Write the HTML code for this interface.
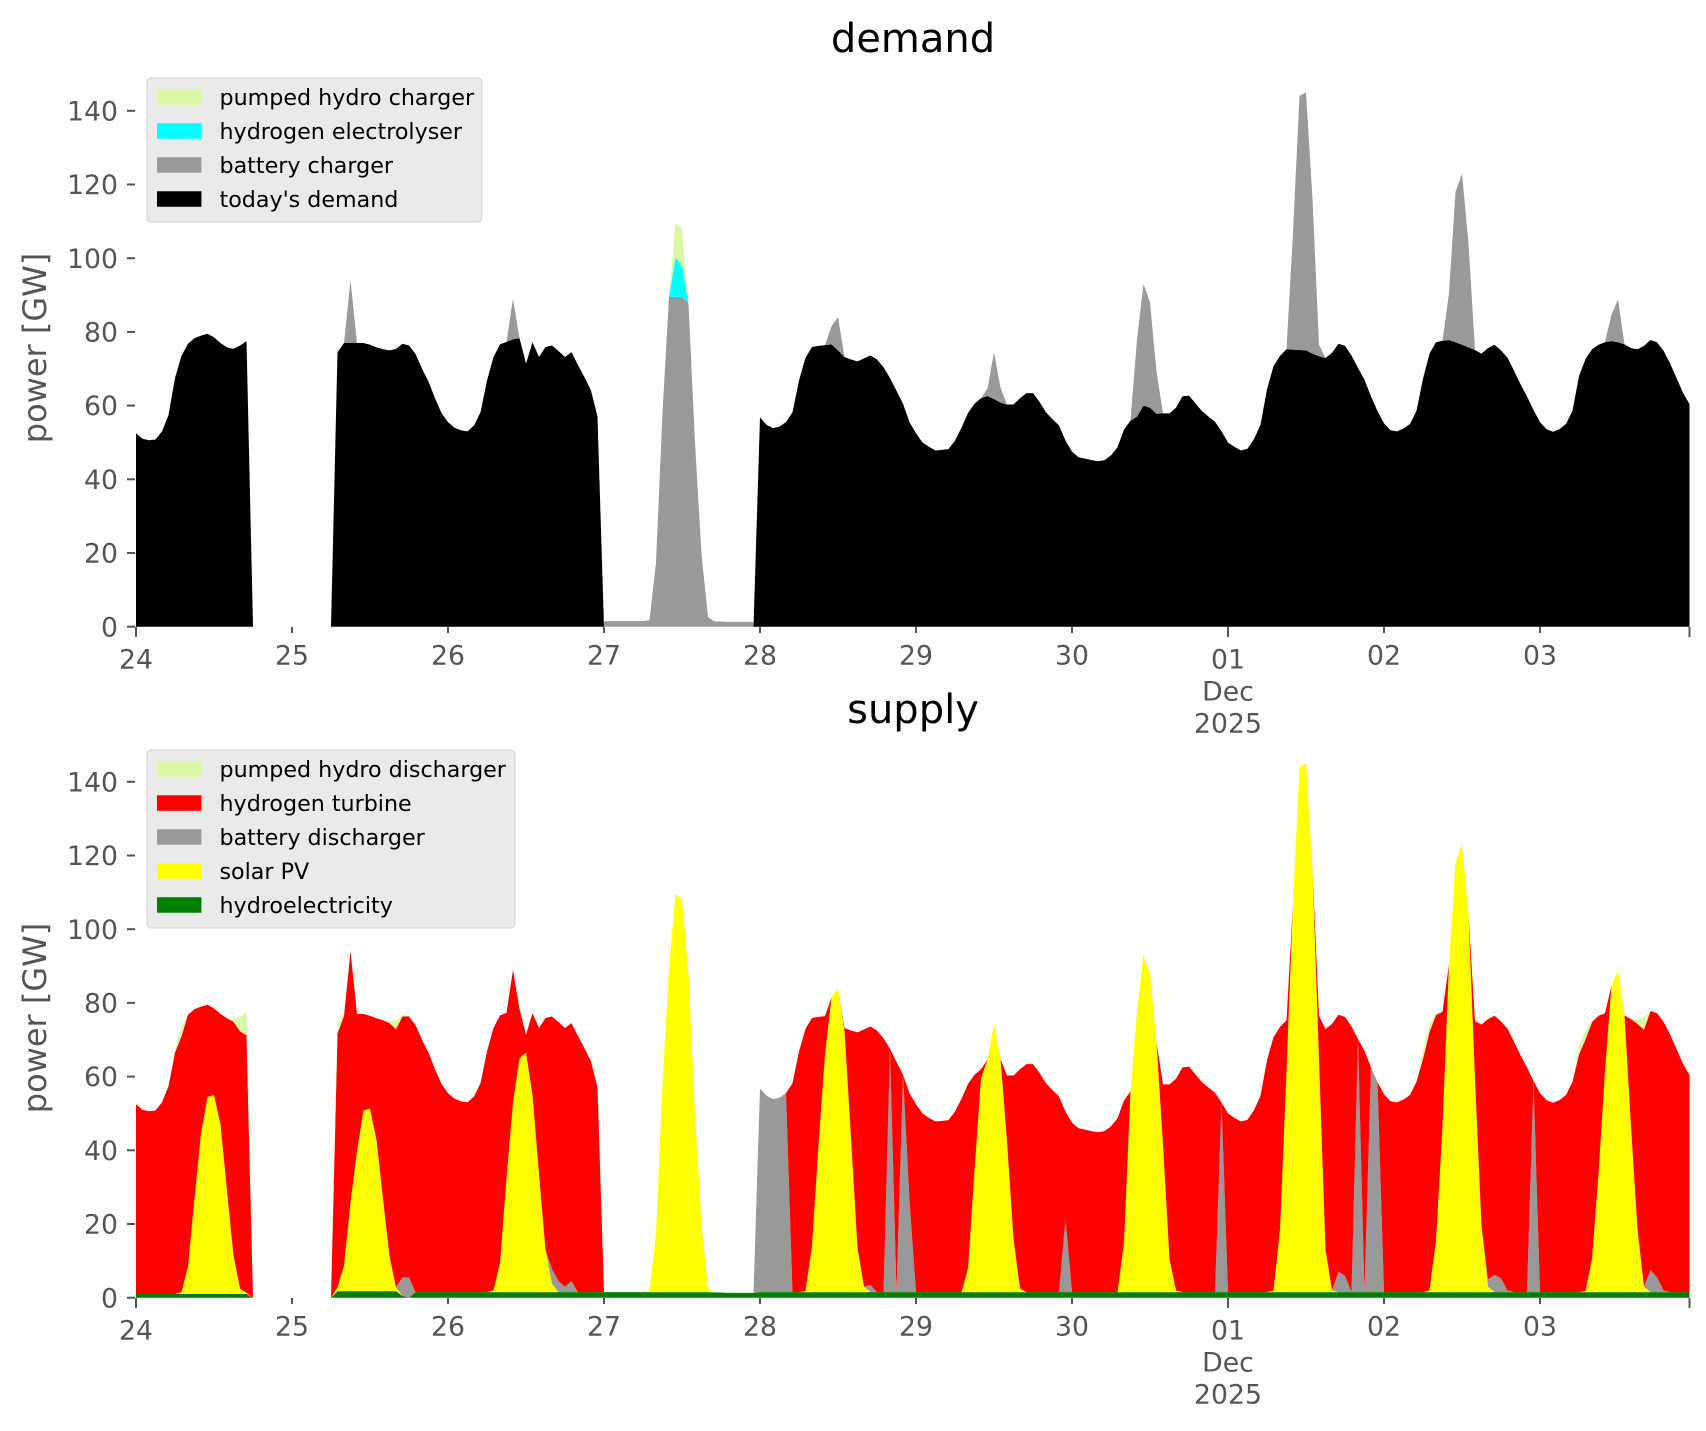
<!DOCTYPE html>
<html>
<head>
<meta charset="utf-8">
<style>
html,body{margin:0;padding:0;background:#ffffff;}
svg{display:block;}
text{font-family:"DejaVu Sans","Liberation Sans",sans-serif;}
</style>
</head>
<body>
<svg id="chart" xmlns="http://www.w3.org/2000/svg" width="1706" height="1431" viewBox="0 0 1706 1431">
<rect x="0" y="0" width="1706" height="1431" fill="#ffffff"/>
<g id="plotTop"></g>
<g id="plotBot"></g>

<!-- titles -->
<text x="913" y="52" font-size="40" text-anchor="middle" fill="#000">demand</text>
<text x="913" y="723" font-size="40" text-anchor="middle" fill="#000">supply</text>

<!-- y labels -->
<text transform="translate(46,348) rotate(-90)" font-size="32" text-anchor="middle" fill="#555555">power [GW]</text>
<text transform="translate(46,1018) rotate(-90)" font-size="32" text-anchor="middle" fill="#555555">power [GW]</text>

<!-- y ticks top -->
<g stroke="#555555" stroke-width="2">
<line x1="127" y1="626.7" x2="135" y2="626.7"/>
<line x1="127" y1="553.0" x2="135" y2="553.0"/>
<line x1="127" y1="479.3" x2="135" y2="479.3"/>
<line x1="127" y1="405.6" x2="135" y2="405.6"/>
<line x1="127" y1="331.9" x2="135" y2="331.9"/>
<line x1="127" y1="258.2" x2="135" y2="258.2"/>
<line x1="127" y1="184.5" x2="135" y2="184.5"/>
<line x1="127" y1="110.8" x2="135" y2="110.8"/>
<line x1="127" y1="1297.7" x2="135" y2="1297.7"/>
<line x1="127" y1="1224.0" x2="135" y2="1224.0"/>
<line x1="127" y1="1150.3" x2="135" y2="1150.3"/>
<line x1="127" y1="1076.6" x2="135" y2="1076.6"/>
<line x1="127" y1="1002.9" x2="135" y2="1002.9"/>
<line x1="127" y1="929.2" x2="135" y2="929.2"/>
<line x1="127" y1="855.5" x2="135" y2="855.5"/>
<line x1="127" y1="781.8" x2="135" y2="781.8"/>
</g>
<g font-size="26.7" fill="#555555" text-anchor="end">
<text x="118" y="636.3">0</text>
<text x="118" y="562.6">20</text>
<text x="118" y="488.9">40</text>
<text x="118" y="415.2">60</text>
<text x="118" y="341.5">80</text>
<text x="118" y="267.8">100</text>
<text x="118" y="194.1">120</text>
<text x="118" y="120.4">140</text>
<text x="118" y="1307.3">0</text>
<text x="118" y="1233.6">20</text>
<text x="118" y="1159.9">40</text>
<text x="118" y="1086.2">60</text>
<text x="118" y="1012.5">80</text>
<text x="118" y="938.8">100</text>
<text x="118" y="865.1">120</text>
<text x="118" y="791.4">140</text>
</g>

<!-- x ticks -->
<g stroke="#555555" stroke-width="2">
<line x1="136" y1="627" x2="136" y2="637"/>
<line x1="292" y1="627" x2="292" y2="633"/>
<line x1="448" y1="627" x2="448" y2="633"/>
<line x1="604" y1="627" x2="604" y2="633"/>
<line x1="760" y1="627" x2="760" y2="633"/>
<line x1="916" y1="627" x2="916" y2="633"/>
<line x1="1072" y1="627" x2="1072" y2="633"/>
<line x1="1228" y1="627" x2="1228" y2="637"/>
<line x1="1384" y1="627" x2="1384" y2="633"/>
<line x1="1540" y1="627" x2="1540" y2="633"/>
<line x1="1689.5" y1="627" x2="1689.5" y2="637"/>
<line x1="136" y1="1298" x2="136" y2="1308"/>
<line x1="292" y1="1298" x2="292" y2="1304"/>
<line x1="448" y1="1298" x2="448" y2="1304"/>
<line x1="604" y1="1298" x2="604" y2="1304"/>
<line x1="760" y1="1298" x2="760" y2="1304"/>
<line x1="916" y1="1298" x2="916" y2="1304"/>
<line x1="1072" y1="1298" x2="1072" y2="1304"/>
<line x1="1228" y1="1298" x2="1228" y2="1308"/>
<line x1="1384" y1="1298" x2="1384" y2="1304"/>
<line x1="1540" y1="1298" x2="1540" y2="1304"/>
<line x1="1689.5" y1="1298" x2="1689.5" y2="1308"/>
</g>
<g font-size="26.7" fill="#555555" text-anchor="middle">
<text x="136" y="668.7">24</text>
<text x="292" y="664.7">25</text>
<text x="448" y="664.7">26</text>
<text x="604" y="664.7">27</text>
<text x="760" y="664.7">28</text>
<text x="916" y="664.7">29</text>
<text x="1072" y="664.7">30</text>
<text x="1228" y="668.7">01</text>
<text x="1228" y="700.7">Dec</text>
<text x="1228" y="732.7">2025</text>
<text x="1384" y="664.7">02</text>
<text x="1540" y="664.7">03</text>

<text x="136" y="1339.7">24</text>
<text x="292" y="1335.7">25</text>
<text x="448" y="1335.7">26</text>
<text x="604" y="1335.7">27</text>
<text x="760" y="1335.7">28</text>
<text x="916" y="1335.7">29</text>
<text x="1072" y="1335.7">30</text>
<text x="1228" y="1339.7">01</text>
<text x="1228" y="1371.7">Dec</text>
<text x="1228" y="1403.7">2025</text>
<text x="1384" y="1335.7">02</text>
<text x="1540" y="1335.7">03</text>
</g>

<!-- legend top -->
<rect x="147" y="78" width="335" height="144" rx="4" ry="4" fill="#eaeaea" stroke="#d2d2d2" stroke-width="1"/>
<rect x="157" y="89.25" width="44.4" height="15.5" fill="#daf7a6"/>
<rect x="157" y="123.25" width="44.4" height="15.5" fill="#00ffff"/>
<rect x="157" y="157.25" width="44.4" height="15.5" fill="#999999"/>
<rect x="157" y="191.25" width="44.4" height="15.5" fill="#000000"/>
<g font-size="22.2" fill="#000">
<text x="219.5" y="105">pumped hydro charger</text>
<text x="219.5" y="139">hydrogen electrolyser</text>
<text x="219.5" y="173">battery charger</text>
<text x="219.5" y="207">today's demand</text>
</g>

<!-- legend bottom -->
<rect x="147" y="750" width="368" height="178" rx="4" ry="4" fill="#eaeaea" stroke="#d2d2d2" stroke-width="1"/>
<rect x="157" y="761.25" width="44.4" height="15.5" fill="#daf7a6"/>
<rect x="157" y="795.25" width="44.4" height="15.5" fill="#ff0000"/>
<rect x="157" y="829.25" width="44.4" height="15.5" fill="#999999"/>
<rect x="157" y="863.25" width="44.4" height="15.5" fill="#ffff00"/>
<rect x="157" y="897.25" width="44.4" height="15.5" fill="#008000"/>
<g font-size="22.2" fill="#000">
<text x="219.5" y="777">pumped hydro discharger</text>
<text x="219.5" y="811">hydrogen turbine</text>
<text x="219.5" y="845">battery discharger</text>
<text x="219.5" y="879">solar PV</text>
<text x="219.5" y="913">hydroelectricity</text>
</g>
</svg>

<script>
(function(){
var N=240;
function X(t){return 136+6.5*t;}
function fromKp(kp){
  var a=new Array(N);for(var i=0;i<N;i++)a[i]=0;
  for(var j=0;j+3<kp.length;j+=2){
    var t0=kp[j],v0=kp[j+1],t1=kp[j+2],v1=kp[j+3];
    for(var t=Math.ceil(t0);t<=t1;t++){ if(t>=0&&t<N) a[t]=v0+(v1-v0)*(t-t0)/(t1-t0); }
  }
  return a;
}
function sparse(o){var a=new Array(N);for(var i=0;i<N;i++)a[i]=0;for(var k in o)a[+k]=o[k];return a;}
function zeros(){var a=new Array(N);for(var i=0;i<N;i++)a[i]=0;return a;}

var Dkp=[0,52.5,1,51,2,50.6,3,50.8,4,53,5,57.4,6,67.5,7,73.5,8,76.8,9,78.3,10,79,11,79.5,12,78.5,13,77,14,75.8,15,75.4,16,76.3,17,77.5,18,0,
30,0,31,74.5,32,77,33,77,34,77,35,77,36,76.5,37,75.8,38,75.3,39,75,40,75.4,41,76.8,42,76.3,43,74,44,70,45,66.5,46,62,47,58,48,55.5,49,54,50,53.3,51,53,52,54.6,53,58.2,54,66.8,55,73.2,56,76.6,57,77.3,58,78,59,78.3,60,71.4,61,77.2,62,73.2,63,75.9,64,76.3,65,74.8,66,73.2,67,74.5,68,71,69,67.7,70,64.1,71,57,72,0,
95,0,96,56.8,97,54.8,98,53.9,99,54.3,100,55.5,101,58.2,102,66.8,103,73,104,75.9,105,76.2,106,76.4,107,76.6,108,75,109,73.2,110,72.5,111,72,112,72.8,113,73.6,114,72.5,115,70.4,116,67.5,117,64,118,60.5,119,55.5,120,52.5,121,50,122,48.8,123,47.8,124,48,125,48.2,126,50.5,127,54,128,58,129,60.5,130,62,131,62.6,132,61.8,133,60.8,134,60.3,135,60.3,136,62,137,63.4,138,63.4,139,61,140,58.2,141,56.3,142,54.6,143,50.5,144,47.5,145,46,146,45.6,147,45.2,148,44.9,149,45.2,150,46.5,151,48.7,152,53.5,153,55.9,154,57,155,60,156,59.4,157,57.8,158,57.9,159,57.9,160,59.4,161,62.5,162,62.7,163,60.6,164,58.5,165,57,166,55.6,167,53,168,50,169,48.8,170,47.8,171,48.3,172,50.9,173,54.8,174,64.4,175,70.7,176,73.5,177,75.3,178,75.2,179,75.1,180,75,181,74.1,182,73.4,183,72.9,184,74.3,185,76.8,186,76.2,187,73.6,188,70.2,189,67,190,62.5,191,58.5,192,55.2,193,53.3,194,53,195,53.8,196,55,197,58.6,198,67.3,199,74.1,200,77.2,201,77.6,202,77.8,203,77.2,204,76.5,205,75.8,206,75.1,207,74.1,208,75.6,209,76.5,210,75,211,73,212,69.5,213,65.8,214,62.5,215,58.8,216,55.5,217,53.6,218,52.9,219,53.6,220,55,221,58.6,222,68,223,72.6,224,75.3,225,76.5,226,77.2,227,77.5,228,77.2,229,76.6,230,75.6,231,75.3,232,76.2,233,77.8,234,77.2,235,74.9,236,71.5,237,67.5,238,63.5,239,60.4];
var D=fromKp(Dkp);

var bcTot={33:94,58:89,
72:1.5,73:1.5,74:1.5,75:1.5,76:1.5,77:1.5,78:1.5,79:1.8,80:17.4,81:58,82:89.5,83:89.5,84:89.5,85:87.7,86:50,87:19.7,88:2.6,89:1.4,90:1.4,91:1.3,92:1.3,93:1.3,94:1.3,95:1.3,
107:81.5,108:84,131:64.6,132:74.5,133:64.8,
153:56,154:78,155:93,156:88,157:69.3,
178:107,179:144,180:145,181:116,182:76.5,
202:90.5,203:118,204:123,205:104,
227:84.7,228:88.8};
var BC=zeros();
for(var k in bcTot){var t=+k;BC[t]=Math.max(0,bcTot[k]-D[t]);}
var E=sparse({83:10.7,84:8.5});
var PC=sparse({83:9.4,84:10});
var T=zeros();
for(var i=0;i<N;i++)T[i]=D[i]+BC[i]+E[i]+PC[i];

// bottom
var H=zeros();
for(var i=0;i<N;i++){
  var h;
  if(T[i]<=0)h=0;
  else if(i<18)h=1.0;
  else if(i>=30&&i<=40)h=1.8;
  else if(i==41)h=0.5;
  else if(i==42)h=0;
  else h=1.5;
  H[i]=Math.min(h,T[i]);
}
var F=-1;
var sSpec={7:0.5,8:7.5,9:26,10:43.5,11:53.5,12:54,13:46,14:28,15:10.5,16:1.5,17:0.3,
31:1,32:7,33:24,34:38,35:49,36:49.5,37:41,38:25,39:9.5,40:1,
55:0.5,56:8,57:31,58:51.5,59:63.5,60:65,61:53.5,62:32,63:11.5,64:2.3,
79:F,80:F,81:F,82:F,83:F,84:F,85:F,86:F,87:F,88:F,
103:0.3,104:12.5,105:40,106:64.5,107:F,108:F,109:71,110:42,111:12,112:1.5,
128:6.5,129:33,130:58,131:F,132:F,133:F,134:41,135:14.5,136:1,
152:13.5,153:F,154:F,155:F,156:F,157:F,158:40,159:9,160:0.5,
175:0.5,176:17,177:60,178:F,179:F,180:F,181:F,182:63,183:11.5,184:0.5,
199:0.5,200:14,201:45,202:F,203:F,204:F,205:F,206:58,207:18,208:1.5,
223:0.3,224:9,225:32,226:60,227:F,228:F,229:F,230:45,231:17,232:1.5};
var S=zeros();
for(var k in sSpec){var t=+k;var room=Math.max(0,T[t]-H[t]);S[t]=(sSpec[k]==F)?room:Math.min(sSpec[k],room);}
var bSpec={41:5,42:5.5,64:4,65:3,66:1.5,67:3,96:F,97:F,98:F,99:F,100:F,113:2,116:F,118:F,119:25,143:20,167:F,185:5.5,186:4.5,188:F,190:F,191:F,208:2,209:4.7,210:3.8,211:0.5,215:F,233:6,234:4,235:0.5};
var B=zeros();
for(var k in bSpec){var t=+k;var room=Math.max(0,T[t]-H[t]-S[t]);B[t]=(bSpec[k]==F)?room:Math.min(bSpec[k],room);}
var pSpec={6:1,7:2.5,15:0.5,16:4,17:6.3,31:2.8,32:0.5,39:0.5,40:2.5,41:0.5,198:2.5,199:2,200:0.5,222:2,223:2.5,224:0.5,231:1,232:3.5};
var P=zeros();
for(var k in pSpec){var t=+k;var room=Math.max(0,T[t]-H[t]-S[t]-B[t]);P[t]=Math.min(pSpec[k],room);}
var R=zeros();
for(var i=0;i<N;i++)R[i]=Math.max(0,T[i]-H[i]-S[i]-B[i]-P[i]);

var NS="http://www.w3.org/2000/svg";
function band(g,base,vals,y0,color){
  var up=[],lo=[];
  for(var i=0;i<N;i++){
    var x=X(i).toFixed(2);
    up.push(x+","+(y0-3.685*(base[i]+vals[i])).toFixed(2));
    lo.push(x+","+(y0-3.685*base[i]).toFixed(2));
  }
  lo.reverse();
  var p=document.createElementNS(NS,"path");
  p.setAttribute("d","M"+up.join("L")+"L"+lo.join("L")+"Z");
  p.setAttribute("fill",color);
  p.setAttribute("stroke","none");
  g.appendChild(p);
}
function add(a,b){var c=new Array(N);for(var i=0;i<N;i++)c[i]=a[i]+b[i];return c;}

var gT=document.getElementById("plotTop");
var y0T=626.7;
var base=zeros();
band(gT,base,D,y0T,"#000000"); base=add(base,D);
band(gT,base,BC,y0T,"#999999"); base=add(base,BC);
band(gT,base,E,y0T,"#00ffff"); base=add(base,E);
band(gT,base,PC,y0T,"#daf7a6");

var gB=document.getElementById("plotBot");
var y0B=1297.7;
base=zeros();
band(gB,base,H,y0B,"#008000"); base=add(base,H);
band(gB,base,S,y0B,"#ffff00"); base=add(base,S);
band(gB,base,B,y0B,"#999999"); base=add(base,B);
band(gB,base,R,y0B,"#ff0000"); base=add(base,R);
band(gB,base,P,y0B,"#daf7a6");
})();
</script>
</body>
</html>
